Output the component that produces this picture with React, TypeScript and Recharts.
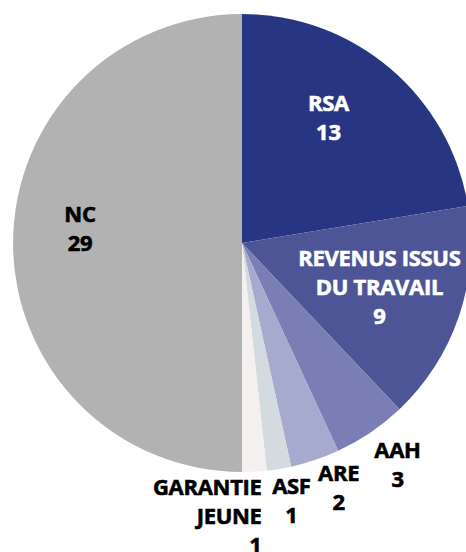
import { Cell, Pie, PieChart } from 'recharts';

const categories = ['RSA', 'REVENUS ISSUS DU TRAVAIL', 'AAH', 'ARE', 'ASF', 'GARANTIE JEUNE', 'NC'];
const counts = [13, 9, 3, 2, 1, 1, 29];
const labelLines = [
  ['RSA'],
  ['REVENUS ISSUS', 'DU TRAVAIL'],
  ['AAH'],
  ['ARE'],
  ['ASF'],
  ['GARANTIE', 'JEUNE'],
  ['NC'],
];

const colors = ['#283583', '#4d5596', '#7a7eb4', '#a7aacf', '#d3dae0', '#f4f0ef', '#b2b2b2'];

// label placement per slice: radius from centre, nudges, text colour, anchor
const labelLayout = [
  { r: 152, dx: -12, dy: -10, fill: '#ffffff', anchor: 'middle' },
  { r: 145, dx: 0, dy: -2, fill: '#ffffff', anchor: 'middle' },
  { r: 270, dx: 4, dy: -2, fill: '#000000', anchor: 'middle' },
  { r: 262, dx: 13, dy: -4, fill: '#000000', anchor: 'middle' },
  { r: 262, dx: 7, dy: -1, fill: '#000000', anchor: 'middle' },
  { r: 270, dx: 5, dy: 3, fill: '#000000', anchor: 'end' },
  { r: 162, dx: 0, dy: -15, fill: '#000000', anchor: 'middle' },
];

const data = categories.map((name, i) => ({ name, value: counts[i] }));

const RADIAN = Math.PI / 180;
const LINE_HEIGHT = 29;

const renderLabel = (props: any) => {
  const { cx, cy, midAngle, index, value } = props;
  const layout = labelLayout[index];
  const x = cx + layout.r * Math.cos(-midAngle * RADIAN) + layout.dx;
  const y = cy + layout.r * Math.sin(-midAngle * RADIAN) + layout.dy;
  const lines = [...labelLines[index], String(value)];
  const top = y - ((lines.length - 1) * LINE_HEIGHT) / 2;
  return (
    <text
      x={x}
      y={top}
      fill={layout.fill}
      stroke={layout.fill}
      strokeWidth={0.6}
      textAnchor={layout.anchor}
      fontFamily="'Open Sans', sans-serif"
      fontWeight={700}
      fontSize={22}
      letterSpacing={-0.3}
    >
      {lines.map((line, i) => (
        <tspan key={i} x={x} y={top + i * LINE_HEIGHT + 8}>
          {line}
        </tspan>
      ))}
    </text>
  );
};

const App = () => {
  return (
    <div style={{ width: 466, height: 552 }}>
      <style>{'body { margin: 0; overflow: hidden; }'}</style>
      <PieChart width={466} height={552} margin={{ top: 0, right: 0, bottom: 0, left: 0 }}>
        <Pie
          data={data}
          dataKey="value"
          nameKey="name"
          cx={242}
          cy={243}
          outerRadius={229}
          startAngle={90}
          endAngle={-270}
          stroke="none"
          label={renderLabel}
          labelLine={false}
          isAnimationActive={false}
        >
          {data.map((entry, i) => (
            <Cell key={entry.name} fill={colors[i]} />
          ))}
        </Pie>
      </PieChart>
    </div>
  );
};

export default App;
